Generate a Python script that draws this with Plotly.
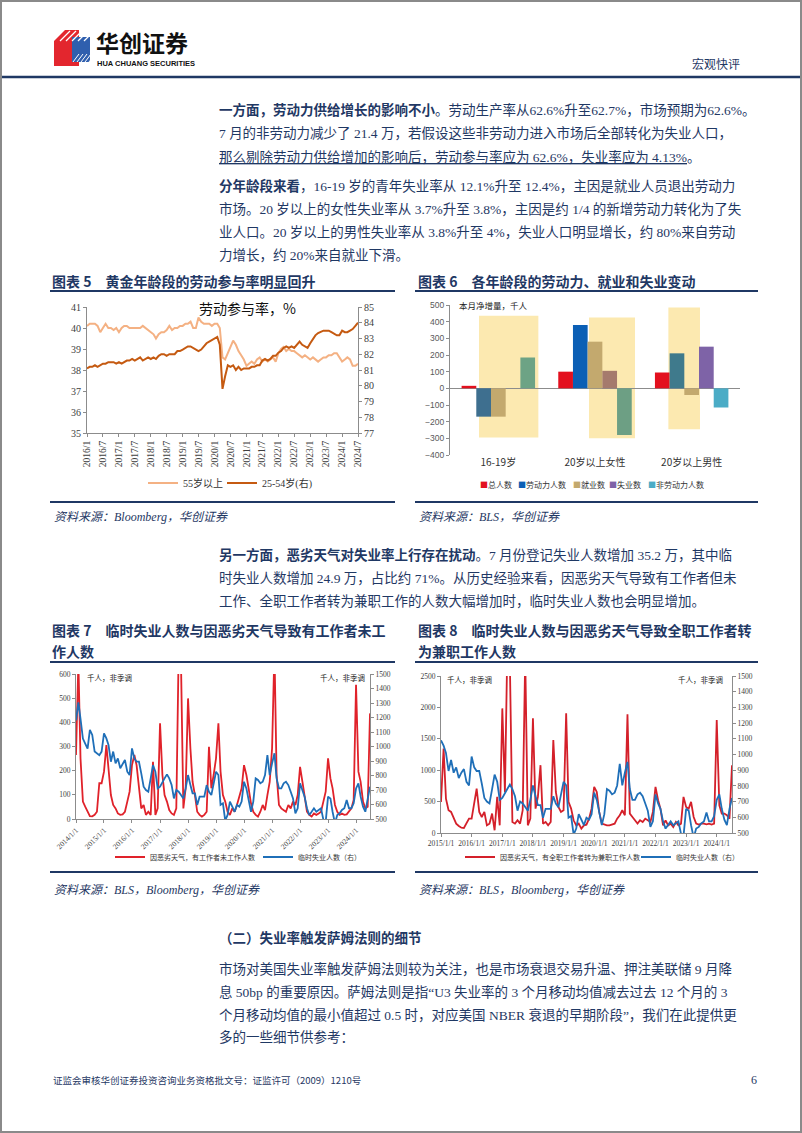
import pandas as pd
import plotly.graph_objects as go

W, H = 802, 1133
def px(x): return x / W
def py(y): return 1 - y / H

NAVY = "#1f3864"
SERIF = "Liberation Serif, Noto Sans CJK SC, serif"
SANS = "Liberation Sans, Noto Sans CJK SC, sans-serif"
CJK = "Noto Sans CJK SC, sans-serif"
AX = "#8c8c8c"
TICK = "#404040"

# ---------------- Data ----------------
# Chart 5: labour force participation rate (%), monthly 2016/1 - 2024/7
c5_months = pd.date_range("2016-01-01", "2024-07-01", freq="MS")
c5_ticks = pd.date_range("2016-01-01", "2024-07-01", freq="6MS")
lfpr_55plus = [
    40.1, 40.2, 40.2, 40.2, 40.1, 39.8, 40.0, 40.2, 40.0, 40.0, 39.9, 40.0,
    39.8, 40.0, 40.1, 40.1, 40.0, 40.0, 40.0, 40.0, 40.0, 40.1, 40.0, 39.9,
    39.8, 39.7, 39.5, 39.7, 39.8, 39.8, 39.9, 40.1, 39.9, 40.0, 40.0, 40.1,
    40.1, 40.2, 40.2, 40.3, 40.0, 40.0, 40.5, 40.3, 40.2, 40.2, 40.2, 40.1,
    40.2, 40.2, 40.0, 38.6, 38.5, 38.8, 39.1, 39.4, 39.2, 38.9, 38.7, 38.5,
    38.2, 38.3, 38.4, 38.3, 38.5, 38.6, 38.4, 38.5, 38.4, 38.5, 38.6, 38.4,
    38.8, 39.0, 39.1, 38.9, 39.0, 38.9, 38.9, 38.8, 38.7, 38.6, 38.7, 38.6,
    38.5, 38.6, 38.5, 38.4, 38.5, 38.6, 38.6, 38.7, 38.7, 38.8, 38.8, 38.6,
    38.4, 38.5, 38.6, 38.5, 38.2, 38.2, 38.3,
]
lfpr_25_54 = [
    81.1, 81.2, 81.2, 81.3, 81.2, 81.3, 81.4, 81.4, 81.5, 81.5, 81.5, 81.4,
    81.5, 81.4, 81.5, 81.6, 81.6, 81.7, 81.6, 81.7, 81.8, 81.6, 81.7, 81.8,
    81.7, 81.8, 81.7, 81.9, 82.0, 82.0, 81.9, 82.0, 82.0, 82.0, 82.2, 82.2,
    82.3, 82.4, 82.5, 82.5, 82.4, 82.3, 82.2, 82.3, 82.5, 82.7, 82.8, 82.9,
    83.0, 83.1, 82.6, 79.8, 80.6, 81.3, 81.2, 81.3, 81.0, 81.2, 81.0, 81.1,
    81.1, 81.1, 81.2, 81.2, 81.3, 81.3, 81.6, 81.7, 81.6, 81.7, 81.9, 81.9,
    82.1, 82.2, 82.4, 82.5, 82.4, 82.5, 82.4, 82.6, 82.8, 82.6, 82.5, 82.4,
    82.7, 83.0, 83.2, 83.35, 83.4, 83.5, 83.5, 83.5, 83.4, 83.3, 83.2, 83.2,
    83.5, 83.4, 83.4, 83.5, 83.6, 83.8, 84.0,
]

# Chart 6: monthly net change (thousand persons)
c6_groups = ["16-19岁", "20岁以上女性", "20岁以上男性"]
c6_series = ["总人数", "劳动力人数", "就业数", "失业数", "非劳动力人数"]
c6_total = [15, 100, 95]
c6_labor_force = [-170, 380, 210]
c6_employed = [-170, 280, -40]
c6_unemployed = [0, 105, 250]
c6_not_in_lf = [185, -280, -115]
c6_band_top = [435, 425, 485]
c6_band_bottom = [-295, -300, -245]

# Chart 7 / 8: thousand persons, not seasonally adjusted
c7_months = pd.date_range("2014-01-01", "2024-07-01", freq="MS")
c7_ticks = pd.date_range("2014-01-01", "2024-01-01", freq="12MS")
weather_absent = [
    265, 650, 250, 72, 51, 30, 12, 11, 17, 30, 148, 148,
    196, 306, 196, 99, 58, 44, 23, 17, 19, 30, 72, 113,
    223, 265, 223, 127, 44, 58, 17, 30, 17, 237, 17, 44,
    396, 182, 99, 72, 37, 23, 17, 44, 700, 650, 44, 127,
    499, 292, 154, 99, 30, 17, 10, 17, 30, 299, 127, 182,
    251, 396, 196, 99, 72, 30, 17, 44, 30, 58, 99, 127,
    223, 182, 127, 65, 30, 17, 10, 30, 58, 37, 99, 154,
    292, 700, 182, 58, 44, 37, 30, 58, 44, 72, 58, 99,
    216, 154, 86, 30, 17, 10, 23, 17, 23, 30, 72, 113,
    251, 168, 127, 58, 30, 17, 23, 17, 19, 30, 44, 79,
    555, 196, 154, 72, 44, 51, 437,
]
temp_layoff = [
    1180, 1305, 1190, 1055, 1020, 985, 1115, 1080, 965, 955, 940, 965,
    1090, 1056, 1010, 895, 965, 884, 918, 850, 884, 907, 826, 803,
    987, 918, 895, 895, 815, 723, 700, 688, 780, 872, 826, 711,
    723, 757, 780, 808, 780, 734, 642, 700, 688, 665, 642, 711,
    803, 734, 677, 677, 597, 654, 654, 654, 734, 688, 665, 757,
    826, 803, 597, 608, 490, 528, 620, 585, 550, 597, 585, 620,
    757, 711, 642, 550, 620, 780, 769, 746, 757, 803, 941, 803,
    884, 953, 780, 711, 711, 746, 757, 734, 688, 642, 539, 574,
    746, 688, 654, 574, 528, 550, 574, 550, 562, 574, 495, 480,
    654, 642, 550, 470, 528, 539, 562, 574, 631, 574, 574, 608,
    711, 746, 654, 585, 550, 654, 723,
]
c8_months = pd.date_range("2015-01-01", "2024-07-01", freq="MS")
c8_ticks = pd.date_range("2015-01-01", "2024-01-01", freq="12MS")
weather_parttime = [
    495, 1346, 548, 362, 335, 229, 149, 112, 85, 80, 149, 229,
    229, 495, 708, 335, 255, 335, 122, 149, 309, 43, 575, 122,
    1984, 650, 2900, 2700, 176, 149, 202, 149, 362, 2800, 122, 229,
    1825, 388, 575, 1080, 149, 176, 122, 176, 1479, 654, 415, 335,
    362, 1905, 495, 388, 202, 122, 149, 69, 122, 133, 229, 388,
    734, 654, 335, 149, 133, 122, 122, 133, 149, 229, 282, 362,
    282, 1889, 309, 255, 202, 149, 202, 176, 229, 202, 176, 335,
    734, 521, 388, 122, 202, 122, 149, 96, 176, 122, 149, 575,
    415, 388, 495, 255, 149, 133, 149, 149, 138, 149, 133, 149,
    1798, 442, 309, 309, 282, 229, 1080,
]
temp_layoff_c8 = temp_layoff[12:]

# ---------------- Figure ----------------
fig = go.Figure()

# Chart 5
fig.add_trace(go.Scatter(x=c5_months, y=lfpr_55plus, name="55岁以上", mode="lines",
                         line=dict(color="#f4b183", width=2), xaxis="x", yaxis="y", legend="legend"))
fig.add_trace(go.Scatter(x=c5_months, y=lfpr_25_54, name="25-54岁(右)", mode="lines",
                         line=dict(color="#c55a11", width=2), xaxis="x", yaxis="y2", legend="legend2"))

# Chart 6
c6_values = [c6_total, c6_labor_force, c6_employed, c6_unemployed, c6_not_in_lf]
c6_bar_colors = [
    ["#e3101e", "#e3101e", "#e3101e"],
    ["#3e6f8f", "#0b5fb5", "#3f7a8c"],
    ["#c3a96e", "#c3a96e", "#c3a96e"],
    ["#7e63a7", "#a57a6d", "#7e63a7"],
    ["#6da385", "#6d9f84", "#4bacc6"],
]
c6_legend_colors = ["#e3101e", "#0b5fb5", "#c3a96e", "#7e63a7", "#4bacc6"]
for name, vals, cols in zip(c6_series, c6_values, c6_bar_colors):
    fig.add_trace(go.Bar(x=c6_groups, y=vals, name=name, marker=dict(color=cols, line=dict(width=0)),
                         xaxis="x2", yaxis="y3", showlegend=False))

# Chart 7
fig.add_trace(go.Scatter(x=c7_months, y=weather_absent, name="因恶劣天气，有工作者未工作人数", mode="lines",
                         line=dict(color="#e0222a", width=1.8), xaxis="x3", yaxis="y4", legend="legend3"))
fig.add_trace(go.Scatter(x=c7_months, y=temp_layoff, name="临时失业人数（右）", mode="lines",
                         line=dict(color="#1f6fb8", width=1.8), xaxis="x3", yaxis="y5", legend="legend4"))
# Chart 8
fig.add_trace(go.Scatter(x=c8_months, y=weather_parttime, name="因恶劣天气，有全职工作者转为兼职工作人数", mode="lines",
                         line=dict(color="#d4202a", width=1.8), xaxis="x4", yaxis="y6", legend="legend5"))
fig.add_trace(go.Scatter(x=c8_months, y=temp_layoff_c8, name="临时失业人数（右）", mode="lines",
                         line=dict(color="#1f6fb8", width=1.8), xaxis="x4", yaxis="y7", legend="legend6"))

def axis(**kw):
    d = dict(showline=True, linecolor=AX, linewidth=1, ticks="outside", ticklen=3, tickcolor=AX,
             showgrid=False, zeroline=False, fixedrange=True, automargin=False)
    d.update(kw)
    return d

def leg(x, y, size):
    return dict(x=px(x), y=py(y), xref="paper", yref="paper", xanchor="left", yanchor="middle",
                orientation="h", bgcolor="rgba(0,0,0,0)", borderwidth=0,
                font=dict(size=size, family=SERIF, color="#333333"))

layout = dict(
    width=W, height=H, autosize=False,
    margin=dict(l=0, r=0, t=0, b=0, pad=0, autoexpand=False),
    paper_bgcolor="white", plot_bgcolor="rgba(0,0,0,0)",
    barmode="group", bargap=0.24, bargroupgap=0, showlegend=True,
    # chart 5
    xaxis=axis(domain=[px(87), px(358)], anchor="y", type="date",
               range=[c5_months[0], c5_months[-1]], tickvals=c5_ticks, tickformat="%Y/%-m",
               tickangle=-90, tickfont=dict(family=SERIF, size=9.5, color=TICK)),
    yaxis=axis(domain=[py(433), py(307)], anchor="x", range=[35, 41], dtick=1,
               tickfont=dict(family=SERIF, size=10, color=TICK)),
    yaxis2=axis(overlaying="y", side="right", anchor="x", range=[77, 85], dtick=1,
                tickfont=dict(family=SERIF, size=10, color=TICK)),
    # chart 6
    xaxis2=dict(domain=[px(450), px(740)], anchor="y3", type="category", showline=False, ticks="",
                showgrid=False, zeroline=False, fixedrange=True, automargin=False,
                tickfont=dict(family=CJK, size=10, color="#333333")),
    yaxis3=axis(domain=[py(455), py(305)], anchor="x2", range=[-400, 500], dtick=100,
                zeroline=True, zerolinecolor=AX, zerolinewidth=1,
                tickfont=dict(family=SANS, size=8.5, color="#595959")),
    # chart 7
    xaxis3=axis(domain=[px(76), px(370)], anchor="y4", type="date",
                range=[c7_months[0], c7_months[-1]], tickvals=c7_ticks, tickformat="%Y/%-m/%-d",
                tickangle=-45, tickfont=dict(family=SERIF, size=7.5, color=TICK)),
    yaxis4=axis(domain=[py(819), py(674)], anchor="x3", range=[0, 600], dtick=100,
                tickfont=dict(family=SERIF, size=7.5, color=TICK)),
    yaxis5=axis(overlaying="y4", side="right", anchor="x3", range=[500, 1500], dtick=100,
                tickfont=dict(family=SERIF, size=7.5, color=TICK)),
    # chart 8
    xaxis4=axis(domain=[px(441), px(732)], anchor="y6", type="date",
                range=[c8_months[0], c8_months[-1]], tickvals=c8_ticks, tickformat="%Y/%-m/%-d",
                tickangle=0, tickfont=dict(family=SERIF, size=7.5, color=TICK)),
    yaxis6=axis(domain=[py(833), py(676)], anchor="x4", range=[0, 2500], dtick=500,
                tickfont=dict(family=SERIF, size=7.5, color=TICK)),
    yaxis7=axis(overlaying="y6", side="right", anchor="x4", range=[500, 1500], dtick=100,
                tickfont=dict(family=SERIF, size=7.5, color=TICK)),
    legend=leg(143, 483, 10),
    legend2=leg(222, 483, 10),
    legend3=leg(110, 857, 7),
    legend4=leg(258, 857, 7),
    legend5=leg(460, 857, 7),
    legend6=leg(636, 857, 7),
)
fig.update_layout(**layout)

# ---------------- Shapes ----------------
shapes = []
def hline(x0, x1, y, color=NAVY, width=2):
    shapes.append(dict(type="line", xref="paper", yref="paper", x0=px(x0), x1=px(x1),
                       y0=py(y), y1=py(y), line=dict(color=color, width=width)))

def poly(points, fill):
    d = "M " + " L ".join(f"{px(a):.5f},{py(b):.5f}" for a, b in points) + " Z"
    shapes.append(dict(type="path", xref="paper", yref="paper", path=d,
                       fillcolor=fill, line=dict(width=0)))

# page border
shapes.append(dict(type="rect", xref="paper", yref="paper", x0=px(1), x1=px(801), y0=py(1132), y1=py(1),
                   line=dict(color="#8a8a8a", width=2), fillcolor="rgba(0,0,0,0)"))
# logo
poly([(54, 41), (65, 30), (79, 30), (79, 66), (54, 66)], "#e3262e")
poly([(72, 37), (90, 37), (90, 62), (72, 62)], "#2f5fae")
for k in range(5):
    a = 60 + k * 6
    shapes.append(dict(type="line", xref="paper", yref="paper", x0=px(a), y0=py(41),
                       x1=px(a + 10), y1=py(31), line=dict(color="white", width=1.2)))
    b = 73 + k * 4
    shapes.append(dict(type="line", xref="paper", yref="paper", x0=px(b), y0=py(62),
                       x1=px(b + 6), y1=py(54), line=dict(color="white", width=1.0)))
# header rule
hline(2, 800, 77, NAVY, 2.5)
# chart frames
hline(50, 395, 291)
hline(415, 758, 291)
hline(50, 395, 502)
hline(415, 758, 502)
hline(50, 395, 662)
hline(415, 758, 662)
hline(50, 395, 872)
hline(415, 758, 872)

# chart 6 highlight bands
c6_band_x = [(-0.2, 0.414), (-0.062, 0.414), (-0.241, 0.086)]
for i, (a, b) in enumerate(c6_band_x):
    shapes.append(dict(type="rect", xref="x2", yref="y3", x0=i + a, x1=i + b,
                       y0=c6_band_bottom[i], y1=c6_band_top[i],
                       fillcolor="#fce9b0", line=dict(width=0), layer="below"))
fig.update_layout(shapes=shapes)

# ---------------- Text ----------------
ann = []
def text(x, y, s, size, color=NAVY, family=SERIF, anchor="left", yanchor="middle", **kw):
    ann.append(dict(x=px(x), y=py(y), xref="paper", yref="paper", text=s, showarrow=False,
                    xanchor=anchor, yanchor=yanchor, font=dict(size=size, color=color, family=family), **kw))

text(94, 42, "<b>华创证券</b>", 23, "#111111", CJK)
text(95, 64, "<b>HUA CHUANG SECURITIES</b>", 7.5, "#111111", "Liberation Sans Narrow, Liberation Sans, sans-serif")
text(742, 63, "宏观快评", 12, NAVY, CJK, anchor="right")

BX = 217
BS = 13.5
paras = [
    (110, "<b>一方面，劳动力供给增长的影响不小</b>。劳动生产率从62.6%升至62.7%，市场预期为62.6%。"),
    (133, "7 月的非劳动力减少了 21.4 万，若假设这些非劳动力进入市场后全部转化为失业人口，"),
    (157, "<u>那么剔除劳动力供给增加的影响后，劳动参与率应为 62.6%，失业率应为 4.13%</u>。"),
    (186, "<b>分年龄段来看</b>，16-19 岁的青年失业率从 12.1%升至 12.4%，主因是就业人员退出劳动力"),
    (209, "市场。20 岁以上的女性失业率从 3.7%升至 3.8%，主因是约 1/4 的新增劳动力转化为了失"),
    (232, "业人口。20 岁以上的男性失业率从 3.8%升至 4%，失业人口明显增长，约 80%来自劳动"),
    (255, "力增长，约 20%来自就业下滑。"),
    (555, "<b>另一方面，恶劣天气对失业率上行存在扰动</b>。7 月份登记失业人数增加 35.2 万，其中临"),
    (578, "时失业人数增加 24.9 万，占比约 71%。从历史经验来看，因恶劣天气导致有工作者但未"),
    (601, "工作、全职工作者转为兼职工作的人数大幅增加时，临时失业人数也会明显增加。"),
    (938, "<b>（二）失业率触发萨姆法则的细节</b>"),
    (969, "市场对美国失业率触发萨姆法则较为关注，也是市场衰退交易升温、押注美联储 9 月降"),
    (992, "息 50bp 的重要原因。萨姆法则是指“U3 失业率的 3 个月移动均值减去过去 12 个月的 3"),
    (1015, "个月移动均值的最小值超过 0.5 时，对应美国 NBER 衰退的早期阶段”，我们在此提供更"),
    (1037, "多的一些细节供参考："),
]
for y, s in paras:
    text(BX, y, s, BS)

# chart titles
text(50, 281, "<b>图表 5　黄金年龄段的劳动参与率明显回升</b>", 14, NAVY, CJK)
text(416, 281, "<b>图表 6　各年龄段的劳动力、就业和失业变动</b>", 14, NAVY, CJK)
text(50, 630, "<b>图表 7　临时失业人数与因恶劣天气导致有工作者未工</b>", 14, NAVY, CJK)
text(50, 651, "<b>作人数</b>", 14, NAVY, CJK)
text(416, 630, "<b>图表 8　临时失业人数与因恶劣天气导致全职工作者转</b>", 14, NAVY, CJK)
text(416, 651, "<b>为兼职工作人数</b>", 14, NAVY, CJK)

# sources
text(52, 517, "<i>资料来源：Bloomberg，华创证券</i>", 12, NAVY)
text(417, 517, "<i>资料来源：BLS，华创证券</i>", 12, NAVY)
text(52, 890, "<i>资料来源：BLS，Bloomberg，华创证券</i>", 12, NAVY)
text(417, 890, "<i>资料来源：BLS，Bloomberg，华创证券</i>", 12, NAVY)

# in-chart labels
text(247, 308, "劳动参与率，%", 14, "#111111", CJK, anchor="center")
text(457, 305, "本月净增量，千人", 8.5, "#222222", CJK)
text(85, 677, "千人，非季调", 7.5, "#222222", CJK)
text(367, 677, "千人，非季调", 7.5, "#222222", CJK, anchor="right")
text(445, 679, "千人，非季调", 7.5, "#222222", CJK)
text(725, 679, "千人，非季调", 7.5, "#222222", CJK, anchor="right")

# chart 6 legend
c6_leg_x = [478, 516, 571, 607, 646]
for xx, nm, col in zip(c6_leg_x, c6_series, c6_legend_colors):
    text(xx, 484, f"<span style='color:{col}'>■</span>{nm}", 8, "#333333", CJK)

# footer
text(51, 1080, "证监会审核华创证券投资咨询业务资格批文号：证监许可（2009）1210号", 9.5, NAVY, CJK)
text(754, 1080, "6", 12, NAVY, SERIF, anchor="center")

fig.update_layout(annotations=ann)
fig.write_html(
    "out.html",
    post_script="document.body.style.margin='0';document.body.style.padding='0';"
                "document.documentElement.style.overflow='hidden';document.body.style.overflow='hidden';",
)
